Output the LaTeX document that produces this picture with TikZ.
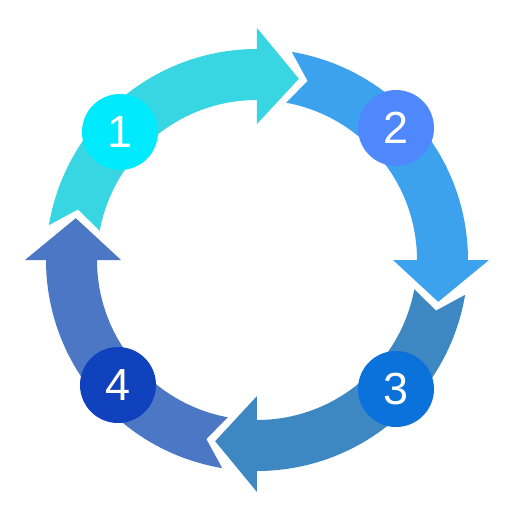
\documentclass[tikz,border=0pt]{standalone}
\usepackage{fontspec}
\setmainfont{Liberation Sans}
\definecolor{aone}{HTML}{38D6E2}
\definecolor{cone}{HTML}{00EAFE}
\definecolor{atwo}{HTML}{3DA2EE}
\definecolor{ctwo}{HTML}{4E88FC}
\definecolor{athree}{HTML}{3D88C2}
\definecolor{cthree}{HTML}{0A72DA}
\definecolor{afour}{HTML}{4C77C4}
\definecolor{cfour}{HTML}{1142BE}
\newcommand\cyclearrow[2]{%
  \fill[#2] ({#1+80.5}:211pt) arc[start angle={#1+80.5}, end angle={#1}, radius=211pt]
    -- ({#1}:232pt) -- ({#1-13}:186pt) -- ({#1}:136pt) -- ({#1}:160pt)
    arc[start angle={#1}, end angle={#1+79.5}, radius=160pt]
    -- ({#1+74.2}:186pt) -- cycle;}
\begin{document}
\begin{tikzpicture}[x=1pt,y=1pt,
  numdot/.style={circle, minimum size=76pt, inner sep=0pt, text=white,
    font=\fontsize{45}{45}\selectfont}]
\useasboundingbox[fill=white] (-257,-252) rectangle (255,260);
\cyclearrow{90}{aone}
\cyclearrow{0}{atwo}
\cyclearrow{-90}{athree}
\cyclearrow{-180}{afour}
\node[numdot, fill=cone] (c1) at (-137,128) {1};
\node[numdot, fill=ctwo] (c2) at (139,132) {2};
\node[numdot, fill=cthree] (c3) at (139,-129) {3};
\node[numdot, fill=cfour] (c4) at (-139,-125) {4};
\end{tikzpicture}
\end{document}
